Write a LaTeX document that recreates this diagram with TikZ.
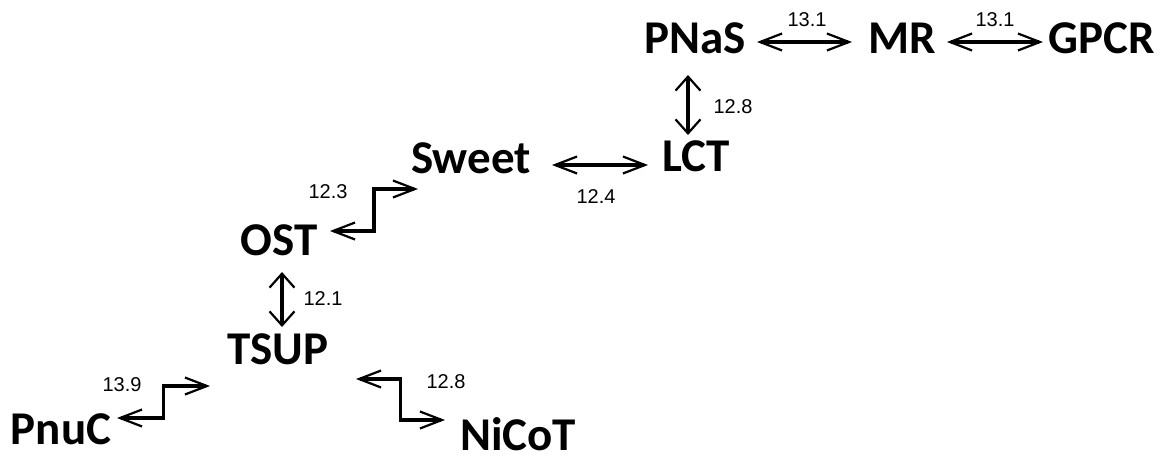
\documentclass[tikz,border=0pt]{standalone}
\usepackage{fontspec}
\setmainfont{Liberation Sans}
\newfontfamily\carl{Carlito}
\usetikzlibrary{arrows.meta,calc}
\begin{document}
\begin{tikzpicture}[x=1pt,y=-1pt,
  fam/.style={font=\carl\bfseries\fontsize{47}{47}\selectfont, inner sep=0pt, text height=30pt, text depth=0pt},
  num/.style={font=\fontsize{20}{20}\selectfont, inner sep=0pt, text height=14.3pt, text depth=0pt},
  harrow/.style={line width=3.6pt,
    {Straight Barb[length=22pt,width=17pt,line width=2.2pt]}-{Straight Barb[length=22pt,width=17pt,line width=2.2pt]}},
  varrow/.style={line width=3.6pt,
    {Straight Barb[length=14pt,width=25pt,line width=2.2pt]}-{Straight Barb[length=14pt,width=25pt,line width=2.2pt]}}
]
\useasboundingbox (0,0) rectangle (1175,459);
\node[fam] (PNaS) at (695,38) {PNaS};
\node[fam] (MR) at (902,38) {MR};
\node[fam] (GPCR) at (1102,38) {GPCR};
\node[fam] (LCT) at (696,156) {LCT};
\node[fam] (Sweet) at (471,158) {Sweet};
\node[fam] (OST) at (279,240) {OST};
\node[fam] (TSUP) at (278,349) {TSUP};
\node[fam] (PnuC) at (61,429) {PnuC};
\node[fam] (NiCoT) at (518,435) {NiCoT};

\node[num] (l1) at (807,19) {13.1};
\node[num] (l2) at (995,19) {13.1};
\node[num] (l3) at (733,106) {12.8};
\node[num] (l4) at (596,196) {12.4};
\node[num] (l5) at (328,191) {12.3};
\node[num] (l6) at (323,298) {12.1};
\node[num] (l7) at (122,384) {13.9};
\node[num] (l8) at (446,381) {12.8};

\draw[harrow] ([shift={(62,4)}]PNaS.center) -- ([shift={(-50,4)}]MR.center);
\draw[harrow] ([shift={(45,4)}]MR.center) -- ([shift={(-59,4)}]GPCR.center);
\draw[varrow] ([shift={(-7,37)}]PNaS.center) -- ([shift={(-8,-21)}]LCT.center);
\draw[harrow] ([shift={(81,7)}]Sweet.center) -- ([shift={(-48,9)}]LCT.center);
\draw[harrow] ([shift={(51,-9)}]OST.center) -| ($([shift={(51,-9)}]OST.center)!0.5!([shift={(-53,31)}]Sweet.center)$) |- ([shift={(-53,31)}]Sweet.center);
\draw[varrow] ([shift={(3,32)}]OST.center) -- ([shift={(4,-22)}]TSUP.center);
\draw[harrow] ([shift={(56,-11)}]PnuC.center) -| ($([shift={(56,-11)}]PnuC.center)!0.5!([shift={(-68,37)}]TSUP.center)$) |- ([shift={(-68,37)}]TSUP.center);
\draw[harrow] ([shift={(78,30)}]TSUP.center) -| ($([shift={(78,30)}]TSUP.center)!0.5!([shift={(-73,-15)}]NiCoT.center)$) |- ([shift={(-73,-15)}]NiCoT.center);
\end{tikzpicture}
\end{document}
